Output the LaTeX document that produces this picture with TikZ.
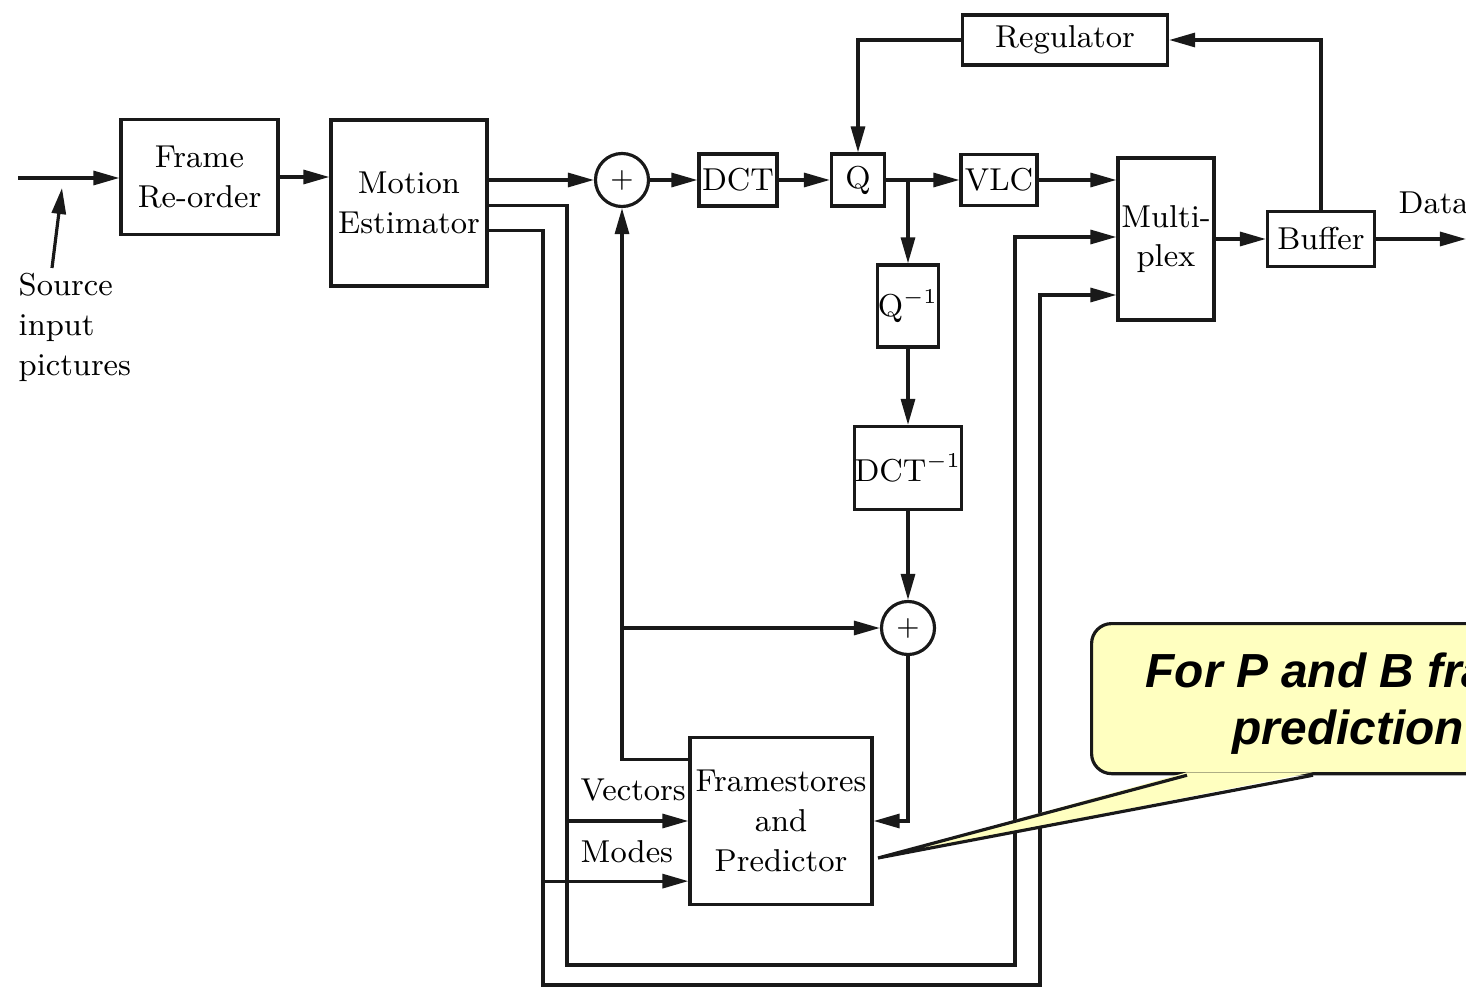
\documentclass[tikz,border=0pt]{standalone}
\usepackage{fontspec}
\newfontfamily\notefont{Liberation Sans}
\usetikzlibrary{arrows.meta, calc}
\definecolor{InkBlack}{RGB}{25, 25, 25}
\definecolor{NoteYellow}{RGB}{255, 255, 192}
\definecolor{White}{RGB}{255, 255, 255}

\tikzset{
  block/.style={draw=InkBlack, line width=0.9pt, align=center, inner sep=0pt, font=\fontsize{9}{11.3}\selectfont},
  adder/.style={draw=InkBlack, line width=0.9pt, circle, inner sep=0pt, minimum size=0.53cm, font=\fontsize{8}{9}\selectfont},
  flow/.style={draw=InkBlack, line width=0.9pt, -{Triangle[length=2.6mm, width=1.4mm]}},
  wire/.style={draw=InkBlack, line width=0.9pt},
  sigtext/.style={inner sep=0pt, align=left, font=\fontsize{9}{11.5}\selectfont},
  note/.style={draw=InkBlack, line width=0.9pt, rounded corners=0.2cm, fill=NoteYellow},
  notetext/.style={inner sep=0pt, font=\notefont\bfseries\itshape\fontsize{13.6}{16}\selectfont}
}

\begin{document}
\begin{tikzpicture}[x=0.01cm, y=-0.01cm]
        \path[use as bounding box, fill=White] (0,0) rectangle (1466,988);
        % coding path
        \node[block, minimum width=1.57cm, minimum height=1.15cm] (reorder) at (199.5,177) {Frame\\Re-order};
        \node[block, minimum width=1.56cm, minimum height=1.66cm] (motion) at (409,203) {Motion\\Estimator};
        \node[adder] (sum1) at (622,180) {+};
        \node[block, minimum width=0.78cm, minimum height=0.52cm] (dct) at (738,180) {DCT};
        \node[block, minimum width=0.53cm, minimum height=0.52cm] (quant) at (858,180) {Q};
        \node[block, minimum width=0.76cm, minimum height=0.51cm] (vlc) at (999,180) {VLC};
        \node[block, minimum width=0.96cm, minimum height=1.62cm] (mux) at (1166,239) {Multi-\\plex};
        \node[block, minimum width=1.07cm, minimum height=0.55cm] (buffer) at (1321,239) {Buffer};
        \node[block, minimum width=2.05cm, minimum height=0.50cm] (regulator) at (1065,40) {Regulator};
        % local decoder
        \node[block, minimum width=0.50cm, minimum height=0.82cm] (iquant) at (908,306) {Q$^{-1}$};
        \node[block, minimum width=1.05cm, minimum height=0.83cm] (idct) at (908,468) {DCT$^{-1}$};
        \node[adder] (sum2) at (908,628) {+};
        \node[block, minimum width=1.82cm, minimum height=1.67cm] (pred) at (781,821) {Framestores\\and\\Predictor};
        % texts
        \node[sigtext, anchor=north west] (src) at (18,272) {Source\\input\\pictures};
        \node[sigtext, anchor=base west] (vectors) at (580,800) {Vectors};
        \node[sigtext, anchor=base west] (modes) at (580,862) {Modes};
        \node[sigtext, anchor=base west] (data) at (1398,214) {Data};
        % free ends and bends
        \coordinate (inpt) at (18,178);
        \coordinate (srcfoot) at (52,268);
        \coordinate (srctip) at (62,188);
        \coordinate (out) at (1466,239);
        \coordinate (busV) at (567,965);
        \coordinate (busM) at (543,985);
        \coordinate (riseV) at (1015,237);
        \coordinate (riseM) at (1040,295);
        \coordinate (modesin) at ($(pred.south west)+(0,-25)$);
        \draw[flow] (inpt) -- (reorder.west |- inpt);
        \draw[flow] (srcfoot) -- (srctip);
        \draw[flow] (reorder) -- (motion.west |- reorder);
        \draw[flow] (motion.east |- sum1) -- (sum1);
        \draw[flow] (sum1) -- (dct);
        \draw[flow] (dct) -- (quant);
        \draw[flow] (quant) -- (vlc);
        \draw[flow] (vlc) -- (mux.west |- vlc);
        \draw[flow] (mux) -- (buffer);
        \draw[flow] (buffer) -- (out);
        \draw[flow] (buffer) |- (regulator);
        \draw[flow] (regulator) -| (quant);
        \draw[flow] (iquant.north |- quant) -- (iquant);
        \draw[flow] (iquant) -- (idct);
        \draw[flow] (idct) -- (sum2);
        \draw[flow] (sum2) |- (pred.east);
        \draw[flow] ($(pred.north west)+(0,24)$) -| (sum1);
        \draw[flow] (sum1 |- sum2) -- (sum2);
        \draw[flow] ($(motion.north east)+(0,87)$) -| (busV) -| (riseV) -- (mux.west |- riseV);
        \draw[flow] ($(motion.north east)+(0,112)$) -| (busM) -| (riseM) -- (mux.west |- riseM);
        \draw[flow] (busV |- pred.west) -- (pred.west);
        \draw[flow] (busM |- modesin) -- (modesin);
        % callout
        \node[note, anchor=north west, minimum width=5.5cm, minimum height=1.5cm] (callout) at (1090,622) {};
        \coordinate (tip) at (878,858);
        \fill[NoteYellow] ($(callout.south west)+(97,-3)$) -- (tip) -- ($(callout.south west)+(223,-3)$) -- cycle;
        \draw[wire] ($(callout.south west)+(97,0)$) -- (tip) -- ($(callout.south west)+(223,0)$);
        \node[notetext, anchor=base west] (noteA) at (1145,687) {For P and B fra};
        \node[notetext, anchor=base west] (noteB) at (1232,744) {prediction};
\end{tikzpicture}
\end{document}
